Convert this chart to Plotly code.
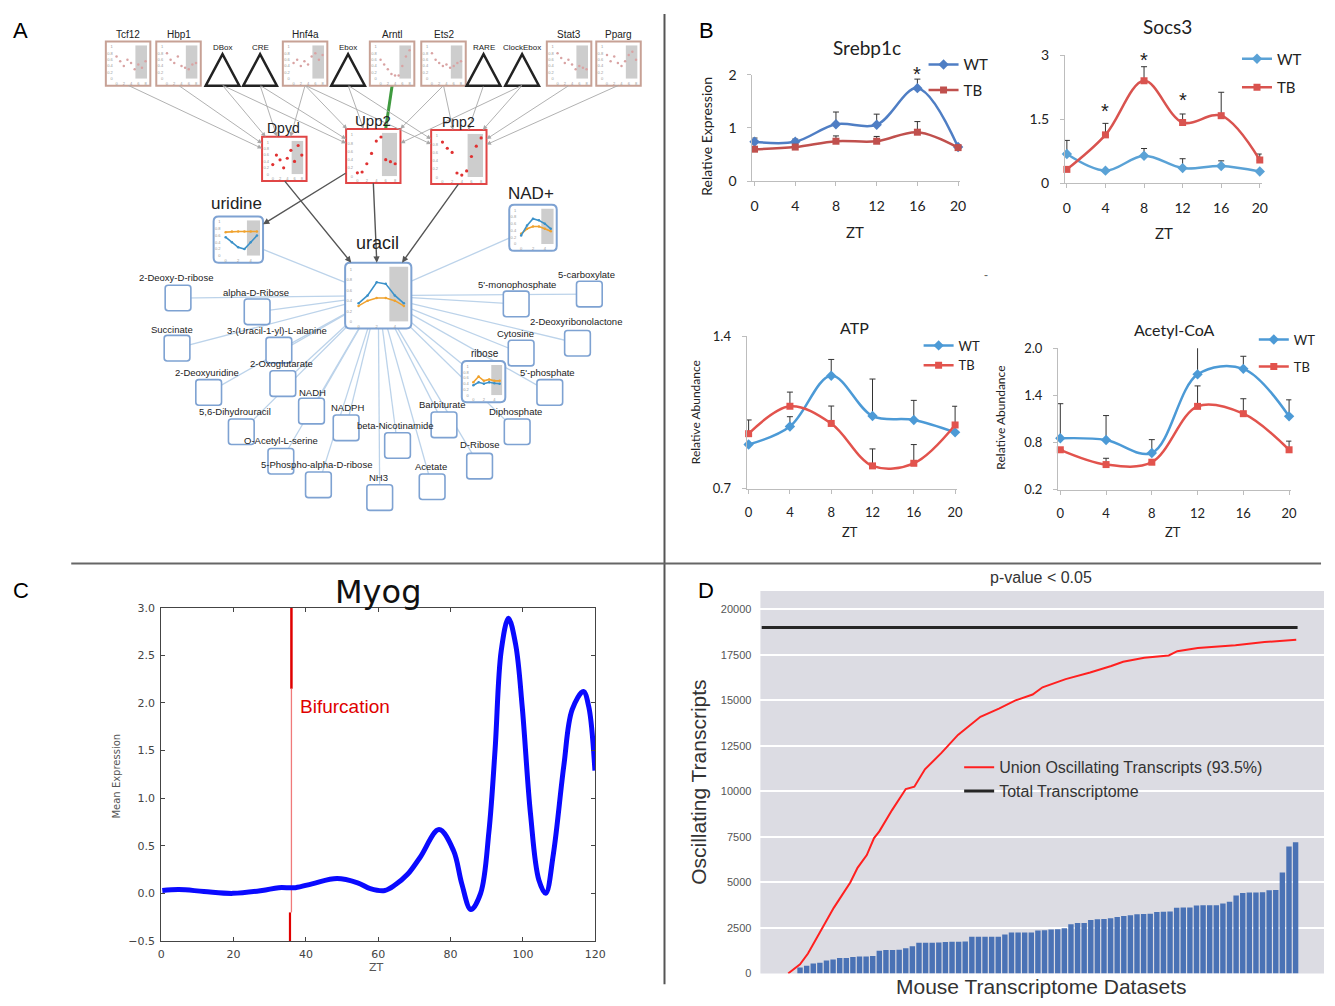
import plotly.graph_objects as go

W, H = 1335, 1006

# ---------------- panel B: qPCR / metabolite time courses ----------------
zt = [0, 4, 8, 12, 16, 20]

srebp_wt = [0.74, 0.74, 1.07, 1.06, 1.75, 0.64]
srebp_wt_err = [0.07, 0.05, 0.23, 0.20, 0.17, 0.0]
srebp_tb = [0.60, 0.64, 0.75, 0.75, 0.92, 0.63]
srebp_tb_err = [0.04, 0.05, 0.10, 0.09, 0.20, 0.02]
srebp_star_zt = [16]
srebp_star_y = [2.02]

socs3_wt = [0.68, 0.29, 0.64, 0.35, 0.40, 0.27]
socs3_wt_err = [0.32, 0.0, 0.17, 0.22, 0.12, 0.02]
socs3_tb = [0.32, 1.13, 2.40, 1.42, 1.58, 0.54]
socs3_tb_err = [0.0, 0.27, 0.33, 0.20, 0.55, 0.14]
socs3_star_zt = [4, 8, 12]
socs3_star_y = [1.7, 2.88, 1.95]

atp_wt = [0.903, 0.986, 1.219, 1.034, 1.016, 0.959]
atp_wt_err = [0.0, 0.045, 0.075, 0.17, 0.09, 0.0]
atp_tb = [0.953, 1.079, 1.0, 0.805, 0.817, 0.993]
atp_tb_err = [0.063, 0.065, 0.08, 0.078, 0.086, 0.086]

acoa_wt = [0.854, 0.833, 0.667, 1.667, 1.737, 1.133]
acoa_wt_err = [0.44, 0.31, 0.17, 0.36, 0.16, 0.21]
acoa_tb = [0.708, 0.52, 0.55, 1.26, 1.167, 0.708]
acoa_tb_err = [0.0, 0.08, 0.0, 0.26, 0.19, 0.11]

# ---------------- panel C: Myog ----------------
myog_zt = [0.3, 4.9, 11.8, 19.8, 27.9, 32.5, 37.1, 41.7, 48.6, 54.3, 57.8, 61.8,
           64.7, 68.1, 71.6, 76.8, 80.8, 83.1, 85.6, 88.3, 90.6, 92.3, 94.0, 96.0,
           98.0, 99.8, 102.1, 104.4, 106.3, 108.4, 111.3, 113.6, 116.7, 118.2, 119.9]
myog_expr = [0.03, 0.04, 0.02, 0.0, 0.03, 0.06, 0.06, 0.10, 0.155, 0.11, 0.05, 0.03,
             0.09, 0.20, 0.38, 0.67, 0.45, 0.10, -0.17, 0.0, 0.65, 1.51, 2.55, 2.89,
             2.61, 1.96, 0.83, 0.14, 0.0, 0.41, 1.34, 1.93, 2.12, 1.96, 1.29]
bifurcation_zt = 36

# ---------------- panel D: oscillating transcripts ----------------
dataset_counts = [326, 417, 543, 580, 706, 760, 851, 851, 906, 924, 924, 960, 1250,
                  1286, 1286, 1304, 1377, 1486, 1685, 1685, 1685, 1703, 1721, 1739,
                  1739, 1757, 2011, 2011, 2011, 2011, 2011, 2138, 2246, 2246, 2246,
                  2246, 2355, 2373, 2409, 2428, 2482, 2699, 2772, 2772, 2935, 2971,
                  2989, 3025, 3098, 3152, 3188, 3243, 3261, 3279, 3370, 3388, 3406,
                  3605, 3623, 3623, 3732, 3750, 3750, 3750, 3841, 3931, 4275, 4420,
                  4438, 4438, 4457, 4565, 4583, 5543, 6975, 7210]
union_x = [-1.8, 0, 1.2, 2.6, 5.1, 7.6, 8.7, 10.1, 11.2, 12, 13.9, 16, 17.3, 18.9,
           21.4, 23.9, 26.4, 27.3, 30.1, 32.6, 35.2, 36.7, 40.2, 43.9, 47.1, 48.9,
           52.1, 55.8, 57.1, 60.2, 65.9, 70.3, 75.1]
union_y = [0, 500, 1090, 2018, 3600, 4990, 5800, 6500, 7430, 7800, 8955, 10126,
           10252, 11207, 12108, 13099, 13820, 14090, 14541, 14991, 15315, 15712,
           16162, 16523, 16883, 17117, 17333, 17459, 17693, 17874, 18018, 18198,
           18324]
total_x = [-5.8, 75.3]
total_transcriptome = 19000

# ---------------- panel A: regulatory / metabolic network ----------------
top_genes = ['Tcf12', 'Hbp1', 'Hnf4a', 'Arntl', 'Ets2', 'Stat3', 'Pparg']
top_gene_dots = [
    [0.70, 0.55, 0.40, 0.60, 0.50, 0.30, 0.45, 0.35, 0.55],
    [0.80, 0.60, 0.50, 0.70, 0.40, 0.35, 0.30, 0.45, 0.50],
    [0.50, 0.60, 0.40, 0.55, 0.45, 0.70, 0.80, 0.60, 0.75],
    [0.60, 0.45, 0.30, 0.15, 0.10, 0.10, 0.40, 0.70, 0.90],
    [0.80, 0.60, 0.50, 0.40, 0.45, 0.35, 0.40, 0.50, 0.55],
    [0.80, 0.65, 0.50, 0.60, 0.45, 0.30, 0.40, 0.35, 0.30],
    [0.75, 0.55, 0.70, 0.50, 0.40, 0.55, 0.75, 0.85, 0.60],
]
motifs = ['DBox', 'CRE', 'Ebox', 'RARE', 'ClockEbox']
mid_genes = ['Dpyd', 'Upp2', 'Pnp2']
mid_gene_dots = [
    [0.30, 0.60, 0.45, 0.20, 0.50, 0.75, 0.40, 0.90, 0.60],
    [0.08, 0.10, 0.30, 0.55, 0.85, 0.95, 0.40, 0.35, 0.30],
    [0.85, 0.70, 0.60, 0.10, 0.05, 0.15, 0.50, 0.75, 0.95],
]
hubs = ['uridine', 'NAD+', 'uracil', 'ribose']
hub_blue = [
    [0.55, 0.40, 0.25, 0.20, 0.40, 0.60],
    [0.25, 0.55, 0.75, 0.70, 0.60, 0.45],
    [0.35, 0.50, 0.75, 0.72, 0.50, 0.35],
    [0.35, 0.45, 0.40, 0.45, 0.42, 0.40],
]
hub_orange = [
    [0.70, 0.72, 0.72, 0.72, 0.72, 0.72],
    [0.30, 0.45, 0.52, 0.52, 0.45, 0.38],
    [0.30, 0.40, 0.45, 0.45, 0.40, 0.30],
    [0.45, 0.65, 0.50, 0.55, 0.50, 0.50],
]
metabolites = ['2-Deoxy-D-ribose', 'alpha-D-Ribose', 'Succinate',
               '3-(Uracil-1-yl)-L-alanine', '2-Deoxyuridine', '2-Oxoglutarate',
               'NADH', '5,6-Dihydrouracil', 'NADPH', 'O-Acetyl-L-serine',
               'beta-Nicotinamide', '5-Phospho-alpha-D-ribose', 'NH3', 'Acetate',
               'Barbiturate', 'D-Ribose', 'Diphosphate', "5'-phosphate", 'Cytosine',
               '2-Deoxyribonolactone', "5'-monophosphate", '5-carboxylate']
regulator_edges = [('Tcf12', 'Dpyd'), ('Hbp1', 'Dpyd'), ('DBox', 'Dpyd'),
                   ('DBox', 'Upp2'), ('CRE', 'Dpyd'), ('CRE', 'Upp2'),
                   ('Hnf4a', 'Dpyd'), ('Hnf4a', 'Upp2'), ('Hnf4a', 'Pnp2'),
                   ('Ebox', 'Upp2'), ('Ebox', 'Pnp2'), ('Ets2', 'Upp2'),
                   ('Ets2', 'Pnp2'), ('RARE', 'Pnp2'), ('ClockEbox', 'Upp2'),
                   ('ClockEbox', 'Pnp2'), ('Stat3', 'Pnp2'), ('Pparg', 'Pnp2')]
enzyme_edges = [('Dpyd', 'uracil'), ('Upp2', 'uracil'), ('Pnp2', 'uracil'),
                ('Upp2', 'uridine')]

# node placement in the network panel (pixels)
TOP_GENE_LEFT = [103, 154, 282, 370, 422, 549, 599]
TOP_Y0, TOP_Y1, TOP_W = 33, 78, 45
MOTIF_APEX = [221, 259, 348, 485, 524]
MID_BOX = [(261, 130, 306, 175), (346, 122, 401, 177), (432, 123, 488, 178)]
MID_LABEL = [(283, 121, 14), (373, 113, 15), (460, 115, 14)]
HUB_BOX = [(212, 211, 262, 258), (511, 199, 559, 246), (345, 258, 412, 325),
           (463, 358, 507, 400)]
HUB_LABEL = [(235, 198, 17), (533, 188, 17), (378, 238, 18), (486, 350, 10)]
MET_LABEL = [(174, 273), (255, 288), (170, 326), (276, 327), (205, 370), (281, 361),
             (312, 390), (234, 409), (347, 405), (280, 439), (396, 424), (316, 463),
             (379, 477), (432, 465), (443, 402), (481, 443), (517, 409), (550, 370),
             (517, 330), (578, 318), (519, 280), (589, 270)]
MET_BOX = [(176, 294), (256, 308), (175, 345), (278, 347), (207, 390), (282, 381),
           (311, 409), (240, 430), (346, 426), (280, 460), (398, 444), (318, 484),
           (380, 497), (433, 486), (445, 423), (481, 465), (519, 430), (552, 390),
           (523, 350), (580, 340), (518, 300), (592, 290)]

A_FONT = 'Liberation Sans, Arial, sans-serif'
B_FONT = 'Lato, Open Sans, sans-serif'
C_FONT = 'DejaVu Sans, sans-serif'


def fx(x):
    return x / W


def fy(y):
    return 1 - y / H


def xid(n):
    return 'x' if n == 1 else f'x{n}'


def yid(n):
    return 'y' if n == 1 else f'y{n}'


def xkey(n):
    return 'xaxis' if n == 1 else f'xaxis{n}'


def ykey(n):
    return 'yaxis' if n == 1 else f'yaxis{n}'


fig = go.Figure()
layout = {}
shapes = []
annotations = []


def label(s, x, y, size, color='#222', family=A_FONT, angle=0, xanchor='center'):
    annotations.append(dict(text=s, x=fx(x), y=fy(y), xref='paper', yref='paper',
                            showarrow=False, textangle=angle, xanchor=xanchor,
                            yanchor='middle',
                            font=dict(size=size, color=color, family=family)))


# ---------------- panel B ----------------
def excel_chart(n, box, yrange, yticks, yticktext, wt, wt_err, tb, tb_err,
                wt_color, tb_color, legend, tick_size, stars=None):
    x0, y0, x1, y1 = box
    layout[xkey(n)] = dict(domain=[fx(x0), fx(x1)], anchor=yid(n), range=[-0.2, 20.2],
                           tickvals=zt, showgrid=False, zeroline=False, showline=True,
                           linecolor='#bdbdbd', ticks='outside', ticklen=4,
                           tickcolor='#bdbdbd', ticklabelstandoff=8,
                           tickfont=dict(family=B_FONT, size=tick_size, color='#222'))
    layout[ykey(n)] = dict(domain=[fy(y1), fy(y0)], anchor=xid(n), range=yrange,
                           tickvals=yticks, ticktext=yticktext, showgrid=False,
                           zeroline=False, showline=True, linecolor='#bdbdbd',
                           ticks='outside', ticklen=4, tickcolor='#bdbdbd',
                           ticklabelstandoff=8,
                           tickfont=dict(family=B_FONT, size=tick_size, color='#222'))
    for name, vals, err, color, sym, size in [('WT', wt, wt_err, wt_color, 'diamond', 8),
                                             ('TB', tb, tb_err, tb_color, 'square', 7)]:
        fig.add_trace(go.Scatter(
            x=zt, y=vals, name=name, mode='lines+markers', xaxis=xid(n), yaxis=yid(n),
            line=dict(color=color, width=2.5, shape='spline'),
            marker=dict(symbol=sym, size=size, color=color),
            error_y=dict(type='data', symmetric=False, array=err,
                         arrayminus=[0] * len(err), color='#333', thickness=1, width=3),
            legend=legend, legendgroup=legend + name, cliponaxis=False))
    if stars:
        # significance marks; y given as a fraction of the axis so marks just
        # above the top of the range are still drawn
        span = yrange[1] - yrange[0]
        for sx, sy in zip(stars[0], stars[1]):
            annotations.append(dict(text='*', x=sx, y=(sy - yrange[0]) / span,
                                    xref=xid(n), yref=f'{yid(n)} domain',
                                    showarrow=False, yanchor='middle',
                                    font=dict(size=20, color='#222', family=A_FONT)))


excel_chart(1, (757, 67, 967, 175), [0, 2], [0, 1, 2], ['0', '1', '2'],
            srebp_wt, srebp_wt_err, srebp_tb, srebp_tb_err, '#4f7ec4', '#c0504d',
            'legend', 14, (srebp_star_zt, srebp_star_y))
excel_chart(2, (1073, 47, 1272, 177), [0, 3], [0, 1.5, 3], ['0', '1.5', '3'],
            socs3_wt, socs3_wt_err, socs3_tb, socs3_tb_err, '#5aa2d6', '#d9534f',
            'legend2', 14, (socs3_star_zt, socs3_star_y))
excel_chart(3, (751, 333, 964, 488), [0.7, 1.4], [0.7, 1.4], ['0.7', '1.4'],
            atp_wt, atp_wt_err, atp_tb, atp_tb_err, '#4c9ad6', '#e2534d',
            'legend3', 13)
excel_chart(4, (1066, 345, 1302, 489), [0.2, 2.0], [0.2, 0.8, 1.4, 2.0],
            ['0.2', '0.8', '1.4', '2.0'], acoa_wt, acoa_wt_err, acoa_tb, acoa_tb_err,
            '#4c9ad6', '#e2534d', 'legend4', 13)

label('Srebp1c', 873, 39, 19, family=B_FONT)
label('Socs3', 1177, 18, 19, family=B_FONT)
label('ATP', 860, 324, 16, family=B_FONT)
label('Acetyl-CoA', 1184, 326, 16, family=B_FONT)
label('Relative Expression', 711, 130, 14, family=B_FONT, angle=-90)
label('Relative Abundance', 699, 410, 12, family=B_FONT, angle=-90)
label('Relative Abundance', 1008, 416, 12, family=B_FONT, angle=-90)
label('ZT', 861, 227, 15, family=B_FONT)
label('ZT', 1173, 228, 15, family=B_FONT)
label('ZT', 856, 532, 13, family=B_FONT)
label('ZT', 1182, 532, 13, family=B_FONT)
label('-', 993, 271, 12, color='#666')

legend_common = dict(xanchor='left', yanchor='top', bgcolor='rgba(0,0,0,0)',
                     traceorder='grouped', itemwidth=30)
layout['legend'] = dict(x=fx(930), y=fy(40), tracegroupgap=3,
                        font=dict(family=B_FONT, size=15, color='#222'), **legend_common)
layout['legend2'] = dict(x=fx(1247), y=fy(34), tracegroupgap=6,
                         font=dict(family=B_FONT, size=15, color='#222'), **legend_common)
layout['legend3'] = dict(x=fx(925), y=fy(327), tracegroupgap=0,
                         font=dict(family=B_FONT, size=13, color='#222'), **legend_common)
layout['legend4'] = dict(x=fx(1264), y=fy(321), tracegroupgap=7,
                         font=dict(family=B_FONT, size=13, color='#222'), **legend_common)

# ---------------- panel C ----------------
fig.add_trace(go.Scatter(x=[bifurcation_zt, bifurcation_zt], y=[3.0, 2.15], mode='lines',
                         line=dict(color='#e00000', width=2.5), xaxis='x5', yaxis='y5',
                         showlegend=False))
fig.add_trace(go.Scatter(x=[bifurcation_zt, bifurcation_zt], y=[2.15, -0.2], mode='lines',
                         line=dict(color='#f07a7a', width=1.3), xaxis='x5', yaxis='y5',
                         showlegend=False))
fig.add_trace(go.Scatter(x=[bifurcation_zt - 0.4, bifurcation_zt - 0.4], y=[-0.2, -0.5],
                         mode='lines', line=dict(color='#e00000', width=2.2),
                         xaxis='x5', yaxis='y5', showlegend=False))
fig.add_trace(go.Scatter(x=myog_zt, y=myog_expr, mode='lines', xaxis='x5', yaxis='y5',
                         line=dict(color='#0a0aff', width=5, shape='spline', smoothing=1.0),
                         showlegend=False))
c_axis = dict(showgrid=False, zeroline=False, showline=True, linecolor='#444',
              linewidth=1, mirror='ticks', ticks='inside', ticklen=4, tickcolor='#444',
              ticklabelstandoff=3, tickfont=dict(family=C_FONT, size=11, color='#444'))
layout['xaxis5'] = dict(domain=[fx(159), fx(598)], anchor='y5', range=[0, 120],
                        tickvals=[0, 20, 40, 60, 80, 100, 120], **c_axis)
layout['yaxis5'] = dict(domain=[fy(948), fy(609)], anchor='x5', range=[-0.5, 3.0],
                        dtick=0.5, tickformat='.1f', **c_axis)
label('Myog', 378, 593, 32, color='#111', family=C_FONT)
label('Bifurcation', 297, 709, 19, color='#e00000', xanchor='left')
label('Mean Expression', 114, 780, 10, color='#555', family=C_FONT, angle=-90)
label('ZT', 377, 975, 11, color='#555', family=C_FONT)

# ---------------- panel D ----------------
fig.add_trace(go.Bar(x=list(range(len(dataset_counts))), y=dataset_counts,
                     marker=dict(color='#4a72b5', line=dict(width=0)),
                     xaxis='x6', yaxis='y6', showlegend=False))
fig.add_trace(go.Scatter(x=union_x, y=union_y, mode='lines', xaxis='x6', yaxis='y6',
                         name='Union Oscillating Transcripts (93.5%)',
                         line=dict(color='#ff2020', width=2), legend='legend5'))
fig.add_trace(go.Scatter(x=total_x, y=[total_transcriptome] * 2, mode='lines',
                         xaxis='x6', yaxis='y6', name='Total Transcriptome',
                         line=dict(color='#262626', width=3), legend='legend5'))
layout['xaxis6'] = dict(domain=[fx(765), 1.0], anchor='y6', range=[-6, 79.3],
                        showgrid=False, zeroline=False, showticklabels=False, ticks='')
layout['yaxis6'] = dict(domain=[fy(981), fy(592)], anchor='x6', range=[0, 21000],
                        tickvals=list(range(0, 20001, 2500)),
                        ticktext=[str(v) for v in range(0, 20001, 2500)],
                        showgrid=True, gridcolor='#ffffff', gridwidth=1.5,
                        zeroline=False, ticks='', ticklabelstandoff=8,
                        tickfont=dict(family=A_FONT, size=11, color='#555'))
shapes.append(dict(type='rect', xref='x6 domain', yref='y6 domain', x0=0, x1=1, y0=0,
                   y1=1, fillcolor='#dcdce3', line=dict(width=0), layer='below'))
layout['legend5'] = dict(x=fx(966), y=fy(754), tracegroupgap=3,
                         font=dict(family=A_FONT, size=16, color='#333'),
                         **legend_common)
label('p-value < 0.05', 1049, 578, 16, color='#333')
label('Oscillating Transcripts', 703, 787, 21, color='#333', angle=-90)
label('Mouse Transcriptome Datasets', 1049, 994, 21, color='#333')

# ---------------- panel A ----------------
def rounded_path(x0, y0, x1, y1, r):
    pts = [('M', x0 + r, y0), ('L', x1 - r, y0), ('Q', x1, y0, x1, y0 + r),
           ('L', x1, y1 - r), ('Q', x1, y1, x1 - r, y1), ('L', x0 + r, y1),
           ('Q', x0, y1, x0, y1 - r), ('L', x0, y0 + r), ('Q', x0, y0, x0 + r, y0)]
    out = []
    for p in pts:
        cmd, coords = p[0], p[1:]
        xy = ' '.join(f'{fx(coords[i]):.5f},{fy(coords[i + 1]):.5f}'
                      for i in range(0, len(coords), 2))
        out.append(f'{cmd} {xy}')
    return ' '.join(out) + ' Z'


def entry_point(sx, sy, box):
    x0, y0, x1, y1 = box
    cx, cy = (x0 + x1) / 2, (y0 + y1) / 2
    dx, dy = cx - sx, cy - sy
    best = 1.0
    for ex in (x0, x1):
        if dx:
            t = (ex - sx) / dx
            if 0 <= t <= best and y0 <= sy + t * dy <= y1:
                best = t
    for ey in (y0, y1):
        if dy:
            t = (ey - sy) / dy
            if 0 <= t <= best and x0 <= sx + t * dx <= x1:
                best = t
    return sx + best * dx, sy + best * dy


def arrow(sx, sy, tx, ty, color, width, head=0.9):
    annotations.append(dict(x=fx(tx), y=fy(ty), xref='paper', yref='paper', text='',
                            ax=sx - tx, ay=sy - ty, axref='pixel', ayref='pixel',
                            showarrow=True, arrowhead=2, arrowsize=head,
                            arrowwidth=width, arrowcolor=color))


axis_counter = [6]


def mini_chart(box, series, colors, mode, shade, size, pad=(9, 3, 4, 7)):
    axis_counter[0] += 1
    n = axis_counter[0]
    x0, y0, x1, y1 = box
    npts = len(series[0])
    tiny = dict(showgrid=False, zeroline=False, showline=False, ticks='',
                tickfont=dict(size=4, color='#999', family=A_FONT), ticklabelstandoff=1)
    layout[xkey(n)] = dict(domain=[fx(x0 + pad[0]), fx(x1 - pad[1])], anchor=yid(n),
                           range=[-0.5, npts - 0.5], nticks=6, **tiny)
    layout[ykey(n)] = dict(domain=[fy(y1 - pad[3]), fy(y0 + pad[2])], anchor=xid(n),
                           range=[0, 1.05], nticks=6, **tiny)
    shapes.append(dict(type='rect', xref=xid(n), yref=yid(n), x0=shade[0], x1=shade[1],
                       y0=0, y1=1.05, fillcolor='#cdcdcd', line=dict(width=0),
                       layer='below'))
    for s, c in zip(series, colors):
        fig.add_trace(go.Scatter(x=list(range(npts)), y=s, mode=mode, xaxis=xid(n),
                                 yaxis=yid(n), showlegend=False, cliponaxis=False,
                                 line=dict(color=c, width=1.6),
                                 marker=dict(color=c, size=size)))


node_box = {}
node_src = {}
for name, left in zip(top_genes, TOP_GENE_LEFT):
    node_box[name] = (left, TOP_Y0, left + TOP_W, TOP_Y1)
    node_src[name] = (left + TOP_W / 2, TOP_Y1)
for name, apex in zip(motifs, MOTIF_APEX):
    node_box[name] = (apex - 17, 46, apex + 17, TOP_Y1)
    node_src[name] = (apex, TOP_Y1)
for name, box in zip(mid_genes, MID_BOX):
    node_box[name] = box
for name, box in zip(hubs, HUB_BOX):
    node_box[name] = box

# light blue metabolite links from uracil (drawn first, boxes cover their ends)
ux0, uy0, ux1, uy1 = node_box['uracil']
ucx, ucy = (ux0 + ux1) / 2, (uy0 + uy1) / 2
hub_centres = [((b[0] + b[2]) / 2, (b[1] + b[3]) / 2) for b in HUB_BOX]
link_targets = list(MET_BOX) + [hub_centres[0], hub_centres[1], hub_centres[3]]
for mx, my in link_targets:
    shapes.append(dict(type='line', xref='paper', yref='paper', x0=fx(ucx), y0=fy(ucy),
                       x1=fx(mx), y1=fy(my), line=dict(color='#bcd3ea', width=1.3),
                       layer='below'))
# Arntl -> Upp2 highlighted edge
ab = node_box['Arntl']
shapes.append(dict(type='line', xref='paper', yref='paper', x0=fx((ab[0] + ab[2]) / 2),
                   y0=fy(ab[3]), x1=fx(386), y1=fy(MID_BOX[1][1]),
                   line=dict(color='#3f9a3f', width=3), layer='below'))

# regulator arrows
for src, dst in regulator_edges:
    sx, sy = node_src[src]
    tx, ty = entry_point(sx, sy, node_box[dst])
    arrow(sx, sy, tx, ty, '#a8a8a8', 0.9, head=1.0)

# enzyme -> metabolite arrows
for src, dst in enzyme_edges:
    b = node_box[src]
    sx, sy = (b[0] + b[2]) / 2, b[3]
    if dst == 'uridine':
        sx, sy = b[0], b[3] - 10
    tx, ty = entry_point(sx, sy, node_box[dst])
    arrow(sx, sy, tx, ty, '#555555', 1.4, head=0.9)

# top row: gene boxes and motif triangles
for name, dots in zip(top_genes, top_gene_dots):
    x0, y0, x1, y1 = node_box[name]
    shapes.append(dict(type='rect', xref='paper', yref='paper', x0=fx(x0), x1=fx(x1),
                       y0=fy(y1), y1=fy(y0), fillcolor='white',
                       line=dict(color='#c7a195', width=2), layer='below'))
    label(name, (x0 + x1) / 2, 26, 10)
    mini_chart(node_box[name], [dots], ['#d9a3a3'], 'markers', (5.2, 8.4), 2.5)
for name in motifs:
    x0, y0, x1, y1 = node_box[name]
    xm = (x0 + x1) / 2
    path = (f'M {fx(x0):.5f},{fy(y1):.5f} L {fx(xm):.5f},{fy(y0):.5f} '
            f'L {fx(x1):.5f},{fy(y1):.5f} Z')
    shapes.append(dict(type='path', xref='paper', yref='paper', path=path,
                       fillcolor='white', line=dict(color='#222', width=2.5),
                       layer='below'))
    label(name, xm, 39, 8)

# middle row: enzymes
for name, dots, (lx, ly, ls) in zip(mid_genes, mid_gene_dots, MID_LABEL):
    x0, y0, x1, y1 = node_box[name]
    shapes.append(dict(type='rect', xref='paper', yref='paper', x0=fx(x0), x1=fx(x1),
                       y0=fy(y1), y1=fy(y0), fillcolor='white',
                       line=dict(color='#e04646', width=2), layer='below'))
    label(name, lx, ly, ls)
    mini_chart(node_box[name], [dots], ['#e03232'], 'markers', (5.2, 8.4), 3.2)

# hub metabolites with profiles
for name, blue, orange, (lx, ly, ls) in zip(hubs, hub_blue, hub_orange, HUB_LABEL):
    x0, y0, x1, y1 = node_box[name]
    shapes.append(dict(type='path', xref='paper', yref='paper',
                       path=rounded_path(x0, y0, x1, y1, 5), fillcolor='white',
                       line=dict(color='#7ea2d2', width=2), layer='below'))
    label(name, lx, ly, ls)
    mini_chart(node_box[name], [orange, blue], ['#f0a22e', '#3b91c9'], 'lines+markers',
               (3.4, 5.5), 2.5)

# plain metabolites
for name, (lx, ly), (bx, by) in zip(metabolites, MET_LABEL, MET_BOX):
    shapes.append(dict(type='path', xref='paper', yref='paper',
                       path=rounded_path(bx - 13, by - 13, bx + 13, by + 13, 3),
                       fillcolor='white', line=dict(color='#7ea2d2', width=1.6),
                       layer='below'))
    label(name, lx, ly, 9.5)

# ---------------- panel letters and dividers ----------------
for letter, lx, ly in [('A', 17, 22), ('B', 710, 22), ('C', 17, 592), ('D', 710, 592)]:
    label(letter, lx, ly, 22, color='#000', xanchor='center')
shapes.append(dict(type='line', xref='paper', yref='paper', x0=fx(668), x1=fx(668),
                   y0=fy(5), y1=fy(992), line=dict(color='#555', width=2)))
shapes.append(dict(type='line', xref='paper', yref='paper', x0=fx(68), x1=fx(1332),
                   y0=fy(564), y1=fy(564), line=dict(color='#666', width=2)))

fig.update_layout(layout)
fig.update_layout(width=W, height=H, autosize=False,
                  margin=dict(l=0, r=0, t=0, b=0),
                  paper_bgcolor='white', plot_bgcolor='rgba(0,0,0,0)',
                  bargap=0.18, showlegend=True,
                  shapes=shapes, annotations=annotations)

# the page body has a default margin; drop it so the figure fills the window exactly
fig.write_html('out.html', config={'displayModeBar': False},
               post_script="document.body.style.margin='0';"
                           "document.body.style.overflow='hidden';")
